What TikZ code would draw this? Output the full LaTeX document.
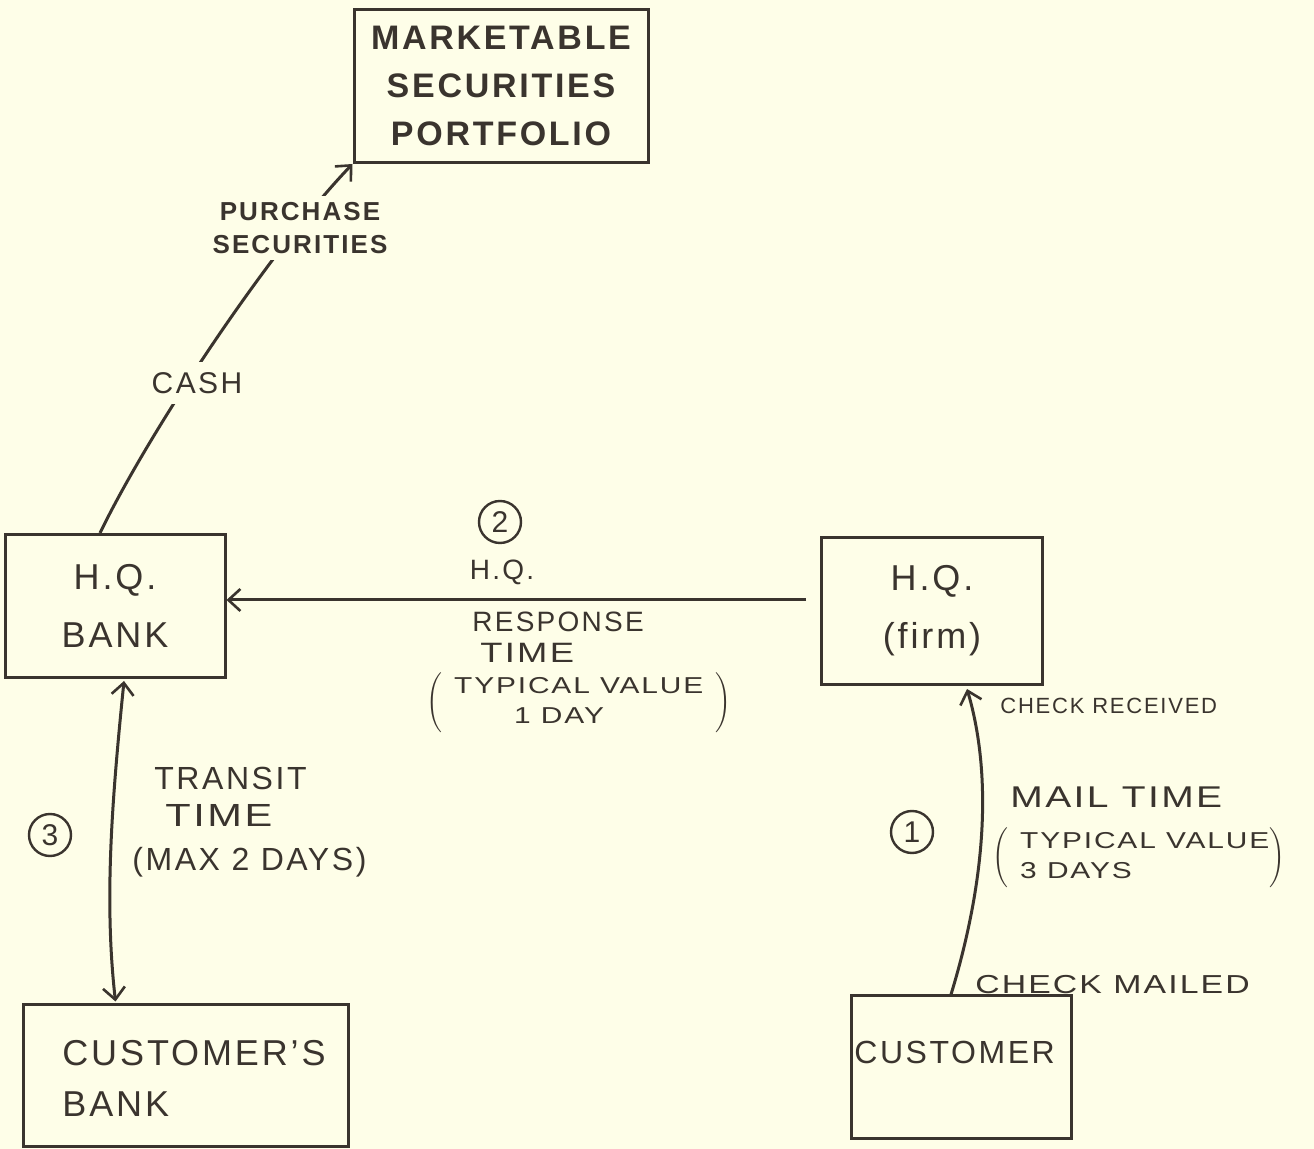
\documentclass[tikz,border=0pt]{standalone}
\usepackage{fontspec}
\setmainfont[LetterSpace=8]{Liberation Sans}
\newfontfamily\widefont[LetterSpace=8,FakeStretch=1.3]{Liberation Sans}
\usetikzlibrary{arrows.meta,calc}
\definecolor{paper}{RGB}{254,254,232}
\definecolor{ink}{RGB}{58,52,46}
\newcommand\fsBox{\fontsize{18}{29}\selectfont}
\newcommand\fsMkt{\fontsize{17}{24}\selectfont}
\newcommand\fsMid{\fontsize{15}{19}\selectfont}
\newcommand\fsLab{\fontsize{14}{16.5}\selectfont}
\newcommand\fsSmall{\fontsize{11}{14.5}\selectfont}
\newcommand\fsParen{\fontsize{11.5}{15}\selectfont}
\begin{document}
\begin{tikzpicture}[x=0.5pt,y=-0.5pt,
  box/.style={draw=ink, line width=1.5pt, inner sep=0pt, text=ink},
  lab/.style={text=ink, inner sep=1pt},
  conn/.style={draw=ink, line width=1.5pt},
  barb/.tip={Straight Barb[length=6pt,width=11pt,line width=1.3pt]},
  arr/.style={conn, -barb},
  arrtwo/.style={conn, barb-barb},
  numc/.style={circle, draw=ink, line width=1.2pt, text=ink, inner sep=0pt, minimum size=21pt}]
\fill[paper] (0,0) rectangle (1314,1149);
\useasboundingbox (0,0) rectangle (1314,1149);

% boxes
\node[box, minimum width=147pt, minimum height=76.5pt, align=center, font=\fsMkt\bfseries] (mkt) at (501,86) {MARKETABLE\\SECURITIES\\PORTFOLIO};
\node[box, minimum width=110pt, minimum height=71.5pt, align=center, font=\fsBox] (bank) at (115,606) {H.Q.\\BANK};
\node[box, minimum width=110.5pt, minimum height=73.5pt, align=center, font=\fsBox] (firm) at (932,611) {H.Q.\\(firm)};
\node[box, minimum width=162.5pt, minimum height=71pt] (cbank) at (185.5,1076) {};
\node[lab, anchor=west, align=left, font=\fontsize{18}{25.5}\selectfont] (cbanktxt) at (60,1078) {CUSTOMER'S\\BANK};
\node[box, minimum width=110pt, minimum height=71.5pt] (cust) at (961,1067.5) {};
\node[lab, anchor=west, font=\fontsize{16}{20}\selectfont] (custtxt) at (852,1052) {CUSTOMER};

% bank -> portfolio
\draw[arr] ($(bank.north)+(-15,0)$) .. controls (150,430) and (270,250) .. (mkt.south west);
\node[lab, fill=paper, inner sep=5pt, font=\fsMid] (cash) at (197,383) {CASH};
\node[lab, fill=paper, inner sep=3pt, align=center, font=\fontsize{13}{16.5}\selectfont\bfseries] (purch) at (300,228) {PURCHASE\\SECURITIES};

% firm -> bank
\coordinate (r2) at ($(firm.west)+(-14,-11)$);
\draw[arr] (r2) -- (r2 -| bank.east);
\node[numc, font=\fsMid] (n2) at (500,522) {2};
\node[lab, font=\fsLab] (hq2) at (502,572) {H.Q.};
\node[lab, anchor=west, font=\fsLab] (resp) at (470,622) {RESPONSE};
\node[lab, anchor=west, font=\fsLab\widefont] (time2) at (478,653) {TIME};
\node[lab, anchor=west, font=\fsParen\widefont] (typ2) at (424,703) {$\left(\hspace{6pt}\vcenter{\hbox{\begin{tabular}{@{}l@{}}TYPICAL VALUE\\\hspace*{30pt}1 DAY\end{tabular}}}\hspace{6pt}\right)$};

% bank <-> customer's bank
\draw[arrtwo] ($(bank.south)+(9,2)$) .. controls (112,800) and (104,900) .. ($(cbank.north west)+(94,-2)$);
\node[numc, font=\fsMid] (n3) at (50,835) {3};
\node[lab, anchor=west, font=\fontsize{16}{20}\selectfont] (transit) at (152,778) {TRANSIT};
\node[lab, anchor=west, font=\fontsize{16}{20}\selectfont\widefont] (time3) at (163,815) {TIME};
\node[lab, anchor=west, font=\fontsize{16}{20}\selectfont] (max) at (130,862) {(MAX 2 DAYS)};

% customer -> firm
\draw[arr] ($(cust.north)+(-10,0)$) .. controls (992,860) and (988,760) .. ($(firm.south)+(35,3)$);
\node[lab, anchor=west, font=\fsSmall] (recv) at (998,706) {CHECK RECEIVED};
\node[lab, anchor=west, font=\fontsize{13}{16}\selectfont\widefont] (mailed) at (973,985) {CHECK MAILED};
\node[numc, font=\fsMid] (n1) at (912,832) {1};
\node[lab, anchor=west, font=\fontsize{15}{18}\selectfont\widefont] (mail) at (1008,797) {MAIL TIME};
\node[lab, anchor=west, font=\fsParen\widefont] (typ1) at (990,858) {$\left(\hspace{6pt}\vcenter{\hbox{\begin{tabular}{@{}l@{}}TYPICAL VALUE\\3 DAYS\end{tabular}}}\right)$};
\end{tikzpicture}
\end{document}
